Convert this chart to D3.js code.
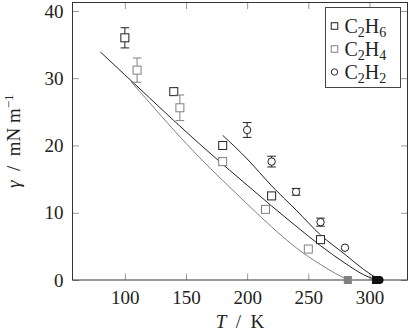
<!DOCTYPE html>
<html lang="en">
<head>
<meta charset="UTF-8">
<title>Surface tension</title>
<script src="https://d3js.org/d3.v7.min.js"></script>
<style>
  body { margin: 0; background: #fff; }
  text { font-family: "Liberation Serif", "DejaVu Serif", serif; fill: #222; white-space: pre; }
</style>
</head>
<body>
<script>
// tick values
const xTicks = [100, 150, 200, 250, 300];
const yTicks = [0, 10, 20, 30, 40];

// measured points (T in K, gamma in mN/m, error bar half-height)
const ethaneT = [100, 140, 180, 220, 260];
const ethaneGamma = [36.0, 28.0, 20.0, 12.5, 6.0];
const ethaneErr = [1.5, 0, 0, 0, 0];

const etheneT = [110, 145, 180, 215, 250];
const etheneGamma = [31.2, 25.6, 17.6, 10.5, 4.6];
const etheneErr = [1.8, 1.9, 0, 0, 0];

const acetyleneT = [200, 220, 240, 260, 280];
const acetyleneGamma = [22.3, 17.6, 13.1, 8.6, 4.8];
const acetyleneErr = [1.1, 0.8, 0.5, 0.6, 0];

// critical temperatures (filled marks at gamma = 0)
const ethaneTc = 305.3;
const etheneTc = 282.3;
const acetyleneTc = 308.3;

// model curves
const ethaneCurveT = [80, 100, 120, 140, 160, 180, 200, 220, 240, 260, 280, 295, 305.3];
const ethaneCurveGamma = [33.9, 30.5, 27.1, 23.7, 20.4, 17.2, 14.1, 11.0, 8.0, 5.1, 2.5, 0.8, 0];

const etheneCurveT = [105, 120, 140, 160, 180, 200, 220, 240, 260, 272, 282.3];
const etheneCurveGamma = [29.5, 26.4, 22.3, 18.4, 14.8, 11.3, 7.9, 4.8, 2.3, 1.0, 0];

const acetyleneCurveT = [180, 200, 220, 240, 260, 280, 295, 308.3];
const acetyleneCurveGamma = [21.5, 18.0, 14.0, 10.4, 6.7, 3.8, 1.6, 0];

const width = 409, height = 334;
const dark = "#222", grey = "#808080";

const svg = d3.select("body").append("svg")
    .attr("width", width)
    .attr("height", height);

const x = d3.scaleLinear().domain([57.2, 331.1]).range([72.5, 407.5]);
const y = d3.scaleLinear().domain([0, 41.25]).range([280, 2.5]);

const tickLen = 6.5;

// axes with inward grey ticks on all four sides
function addAxis(axis, transform) {
    const g = svg.append("g").attr("transform", transform).call(axis)
        .attr("font-family", "Liberation Serif");
    g.select(".domain").remove();
    g.selectAll(".tick line").attr("stroke", "#999");
    return g;
}
const bottom = addAxis(d3.axisBottom(x).tickValues(xTicks).tickSize(-tickLen).tickPadding(10),
    `translate(0,${y(0)})`);
bottom.selectAll("text").attr("font-size", 19).attr("dy", "0.71em").attr("y", 11)
    .attr("fill", "#222");
addAxis(d3.axisTop(x).tickValues(xTicks).tickSize(-tickLen).tickFormat(""),
    `translate(0,${y.range()[1]})`);
const left = addAxis(d3.axisLeft(y).tickValues(yTicks).tickSize(-tickLen).tickPadding(9),
    `translate(${x.range()[0]},0)`);
left.selectAll("text").attr("font-size", 19).attr("fill", "#222");
addAxis(d3.axisRight(y).tickValues(yTicks).tickSize(-tickLen).tickFormat(""),
    `translate(${x.range()[1]},0)`);

// frame
svg.append("rect")
    .attr("x", x.range()[0]).attr("y", y.range()[1])
    .attr("width", x.range()[1] - x.range()[0])
    .attr("height", y.range()[0] - y.range()[1])
    .attr("fill", "none").attr("stroke", "#333").attr("stroke-width", 1);

// curves
const line = d3.line()
    .x(d => x(d[0])).y(d => y(d[1]))
    .curve(d3.curveMonotoneX);

const curves = [
    { t: etheneCurveT, g: etheneCurveGamma, color: grey },
    { t: ethaneCurveT, g: ethaneCurveGamma, color: dark },
    { t: acetyleneCurveT, g: acetyleneCurveGamma, color: dark }
];
curves.forEach(c => {
    svg.append("path")
        .datum(c.t.map((t, i) => [t, c.g[i]]))
        .attr("d", line)
        .attr("fill", "none")
        .attr("stroke", c.color)
        .attr("stroke-width", 1);
});

// error bars + markers
const sq = 8, cr = 3.7, cap = 4.3;
function drawSeries(ts, gs, es, color, shape) {
    const g = svg.append("g");
    ts.forEach((t, i) => {
        const cx = x(t), cy = y(gs[i]);
        if (es[i] > 0) {
            const y0 = y(gs[i] - es[i]), y1 = y(gs[i] + es[i]);
            g.append("line").attr("x1", cx).attr("x2", cx).attr("y1", y0).attr("y2", y1)
                .attr("stroke", color).attr("stroke-width", 1);
            [y0, y1].forEach(yy => g.append("line")
                .attr("x1", cx - cap).attr("x2", cx + cap).attr("y1", yy).attr("y2", yy)
                .attr("stroke", color).attr("stroke-width", 1));
        }
        marker(g, cx, cy, color, shape, false, sq, cr);
    });
}
function marker(g, cx, cy, color, shape, filled, s, r) {
    if (shape === "square") {
        g.append("rect").attr("x", cx - s / 2).attr("y", cy - s / 2)
            .attr("width", s).attr("height", s)
            .attr("fill", filled ? color : "#fff").attr("stroke", color).attr("stroke-width", 1);
    } else {
        g.append("circle").attr("cx", cx).attr("cy", cy).attr("r", r)
            .attr("fill", filled ? color : "#fff").attr("stroke", color).attr("stroke-width", 1);
    }
}

drawSeries(ethaneT, ethaneGamma, ethaneErr, dark, "square");
drawSeries(etheneT, etheneGamma, etheneErr, grey, "square");
drawSeries(acetyleneT, acetyleneGamma, acetyleneErr, dark, "circle");

// critical points
const crit = svg.append("g");
marker(crit, x(etheneTc), y(0), grey, "square", true, 7, 3.5);
marker(crit, x(ethaneTc), y(0), "#111", "square", true, 7, 3.5);
marker(crit, x(acetyleneTc), y(0), "#111", "circle", true, 7, 3.6);

// axis labels
const xl = svg.append("text")
    .attr("x", (x.range()[0] + x.range()[1]) / 2).attr("y", 328)
    .attr("text-anchor", "middle").attr("font-size", 19);
xl.append("tspan").attr("font-style", "italic").text("T");
xl.append("tspan").text("\u2002/\u2002K");

const yl = svg.append("text")
    .attr("transform", `translate(20,${(y.range()[0] + y.range()[1]) / 2}) rotate(-90)`)
    .attr("text-anchor", "middle").attr("font-size", 19);
yl.append("tspan").attr("font-style", "italic").text("γ");
yl.append("tspan").text("\u2002/\u2002mN m");
yl.append("tspan").attr("font-size", 13).attr("dy", -7).text("−1");

// legend
const legendNames = [["C", "2", "H", "6"], ["C", "2", "H", "4"], ["C", "2", "H", "2"]];
const legendColors = [dark, grey, dark];
const legendShapes = ["square", "square", "circle"];
const lg = svg.append("g");
lg.append("rect").attr("x", 325.5).attr("y", 7.5).attr("width", 75).attr("height", 80)
    .attr("fill", "#fff").attr("stroke", "#444").attr("stroke-width", 1);
legendNames.forEach((parts, i) => {
    const cy = 26 + i * 23;
    marker(lg, 334.5, cy, legendColors[i], legendShapes[i], false, 6.5, 3.2);
    const t = lg.append("text").attr("x", 344.5).attr("y", cy + 6.5).attr("font-size", 20);
    t.append("tspan").text(parts[0]);
    t.append("tspan").attr("font-size", 14).attr("dy", 4).text(parts[1]);
    t.append("tspan").attr("dy", -4).text(parts[2]);
    t.append("tspan").attr("font-size", 14).attr("dy", 4).text(parts[3]);
});
</script>
</body>
</html>
